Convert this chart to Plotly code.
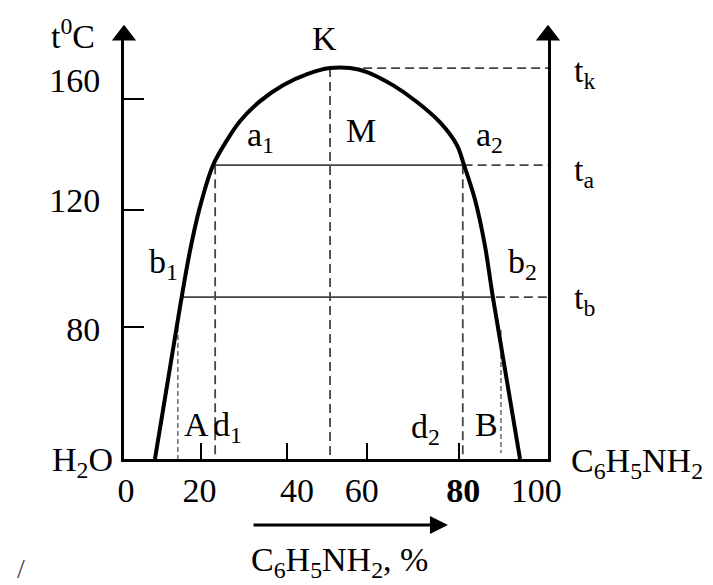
import plotly.graph_objects as go

# ---- data ----
# solubility (mutual miscibility) curve: C6H5NH2 content (%) vs temperature (°C)
curve_x = [7.3, 13.2, 15.6, 17.9, 21.0, 24.3, 27.4, 32.1, 37.5, 43.2, 48.6,
           53.3, 57.3, 63.4, 69.1, 74.5, 78.5, 80.2, 82.8, 85.1, 87.0, 93.4]
curve_t = [33.7, 87.0, 107.0, 122.1, 136.8, 145.6, 152.3, 159.3, 164.9, 168.8, 170.9,
           170.9, 169.5, 164.9, 159.0, 151.9, 143.9, 136.8, 124.6, 108.8, 90.5, 33.7]

t_k = 170.9          # critical temperature (point K)
t_a = 136.8          # tie line a1-a2
t_b = 90.5           # tie line b1-b2
x_K = 48.6
x_a1, x_a2 = 21.1, 80.1
x_b1, x_b2 = 13.9, 84.4
x_A, x_B = 12.7, 88.9
x_d1, x_d2 = 21.5, 79.9
x_tk_start = 56.4

Y_MIN, Y_MAX = 33.7, 182.5
X_MIN, X_MAX = 0, 100

# axis ticks (marks) and tick labels (label positions as drawn in the picture)
x_tick_marks = [18.2, 38.4, 57.3, 79.1]
x_label_pos = [0.5, 17.8, 40.8, 56.1, 80.0, 97.2]
x_label_text = ["0", "20", "40", "60", "<b>80</b>", "100"]
y_tick_marks = [80, 121.0, 160]
y_label_pos = [79.3, 124.5, 166.8]
y_label_text = ["80", "120", "160"]

FONT = "Liberation Serif"
FS = 34
DASH = "9px,5px"
DOT = "5px,3px"
GRAY = "#444444"

fig = go.Figure()

def seg(x, y, dash="solid", width=1.8, color=GRAY):
    fig.add_trace(go.Scatter(x=x, y=y, mode="lines",
                             line=dict(color=color, width=width, dash=dash),
                             hoverinfo="skip", cliponaxis=False))

# horizontal lines
seg([x_a1, x_a2], [t_a, t_a])
seg([x_a2, X_MAX], [t_a, t_a], dash=DASH)
seg([x_b1, x_b2], [t_b, t_b])
seg([x_b2, X_MAX], [t_b, t_b], dash=DASH)
seg([x_tk_start, X_MAX], [t_k, t_k], dash=DASH)
# vertical lines
seg([x_K, x_K], [t_k, Y_MIN], dash=DASH)
seg([x_d1, x_d1], [t_a, Y_MIN], dash=DASH)
seg([x_d2, x_d2], [t_a, Y_MIN], dash=DASH)
seg([x_A, x_A], [80, Y_MIN], dash=DOT, width=1.5, color="#666666")
seg([x_B, x_B], [79, 35.8], dash=DOT, width=1.5, color="#666666")

# the curve
fig.add_trace(go.Scatter(x=curve_x, y=curve_t, mode="lines",
                         line=dict(color="black", width=4, shape="spline", smoothing=1.0),
                         hoverinfo="skip", cliponaxis=False))

# axis arrowheads (at the top end of both vertical axes)
fig.add_trace(go.Scatter(x=[X_MIN, X_MAX], y=[Y_MAX - 0.05, Y_MAX - 0.05], mode="markers",
                         marker=dict(symbol="triangle-up", size=21, color="black"),
                         hoverinfo="skip", cliponaxis=False))

# empty traces so that the label-only overlay axes get drawn
fig.add_trace(go.Scatter(x=[None], y=[None], xaxis="x2", yaxis="y", mode="markers",
                         hoverinfo="skip"))
fig.add_trace(go.Scatter(x=[None], y=[None], xaxis="x", yaxis="y2", mode="markers",
                         hoverinfo="skip"))

ann = []
def lab(text, x, y, xref="x", yref="y", xanchor="center", size=FS, color="black"):
    ann.append(dict(text=text, x=x, y=y, xref=xref, yref=yref, xanchor=xanchor,
                    yanchor="middle", showarrow=False,
                    font=dict(family=FONT, size=size, color=color)))

# labels inside the diagram
lab("M", 55.9, 149.0)
lab("a<sub>1</sub>", 32.1, 146.8)
lab("a<sub>2</sub>", 86.1, 146.8)
lab("b<sub>1</sub>", 9.2, 102.3)
lab("b<sub>2</sub>", 93.9, 102.3)
lab("A", 17.2, 45.8)
lab("d<sub>1</sub>", 24.5, 45.0)
lab("d<sub>2</sub>", 71.0, 44.3)
lab("B", 85.6, 45.8)
# labels around the diagram (paper coordinates)
lab("t<sup>0</sup>C", -0.120, 1.002, "paper", "paper")
lab("K", 0.474, 0.992, "paper", "paper")
lab("t<sub>k</sub>", 1.085, 0.910, "paper", "paper")
lab("t<sub>a</sub>", 1.085, 0.677, "paper", "paper")
lab("t<sub>b</sub>", 1.085, 0.375, "paper", "paper")
lab("H<sub>2</sub>O", -0.097, -0.007, "paper", "paper")
lab("C<sub>6</sub>H<sub>5</sub>NH<sub>2</sub>", 1.050, -0.009, "paper", "paper", xanchor="left")
lab("C<sub>6</sub>H<sub>5</sub>NH<sub>2</sub>, %", 0.509, -0.243, "paper", "paper")
lab("/", -0.243, -0.258, "paper", "paper", size=28, color="#444444")

# arrow under the composition axis
ann.append(dict(text="", x=76.4, y=-0.1557, xref="x", yref="paper",
                ax=30.2, ay=0, axref="x", ayref="pixel", showarrow=True,
                arrowhead=2, arrowsize=1.2, arrowwidth=3, arrowcolor="black", standoff=0))

fig.update_layout(
    width=713, height=585,
    margin=dict(l=124, r=165, t=35, b=126),
    paper_bgcolor="white", plot_bgcolor="white",
    showlegend=False,
    annotations=ann,
    xaxis=dict(range=[X_MIN, X_MAX], showgrid=False, zeroline=False,
               showline=True, linecolor="black", linewidth=3,
               ticks="inside", tickvals=x_tick_marks, ticklen=16, tickwidth=2,
               tickcolor="black", showticklabels=False),
    xaxis2=dict(range=[X_MIN, X_MAX], overlaying="x", anchor="y", side="bottom",
                showgrid=False, zeroline=False, showline=False,
                ticks="outside", ticklen=1, tickcolor="rgba(0,0,0,0)",
                tickvals=x_label_pos, ticktext=x_label_text,
                tickfont=dict(family=FONT, size=FS, color="black")),
    yaxis=dict(range=[Y_MIN, Y_MAX], showgrid=False, zeroline=False,
               showline=True, mirror=True, linecolor="black", linewidth=3,
               ticks="inside", tickvals=y_tick_marks, ticklen=20, tickwidth=2,
               tickcolor="black", showticklabels=False),
    yaxis2=dict(range=[Y_MIN, Y_MAX], overlaying="y", anchor="x", side="left",
                showgrid=False, zeroline=False, showline=False,
                ticks="outside", ticklen=16, tickcolor="rgba(0,0,0,0)",
                tickvals=y_label_pos, ticktext=y_label_text,
                tickfont=dict(family=FONT, size=FS, color="black")),
)

fig.write_html("out.html", config={"displayModeBar": False},
               post_script="document.body.style.margin='0px';")
